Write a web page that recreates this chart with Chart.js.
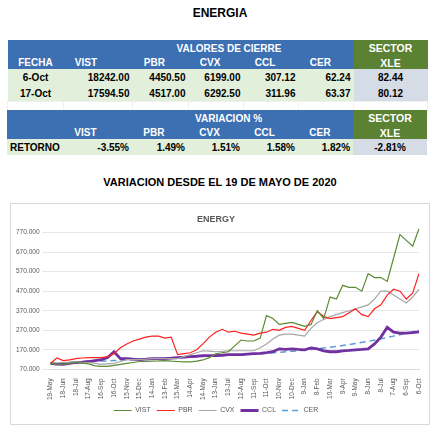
<!DOCTYPE html>
<html>
<head>
  <script src="https://cdn.jsdelivr.net/npm/chart.js"></script>
  <style>
    body { margin: 0; width: 440px; height: 435px; background: #fff; font-family: "Liberation Sans", Arial, sans-serif; position: relative; }
    .t1 { position: absolute; top: 6px; width: 440px; text-align: center; font-weight: bold; font-size: 12px; }
    .t2 { position: absolute; top: 176px; width: 440px; text-align: center; font-weight: bold; font-size: 11px; }
    table { position: absolute; left: 7px; border-collapse: collapse; table-layout: fixed; width: 420px; font-size: 10px; font-weight: bold; }
    td { padding: 0 3px; height: 13px; white-space: nowrap; overflow: hidden; }
    tr.big td { height: 16px; }
    .hb { background: #3d6fb3; color: #fff; }
    .hg { background: #5b8133; color: #fff; text-align: center; font-size: 10.5px; }
    .d { background: #e2efda; text-align: right; }
    .x { background: #d6dce5; text-align: center; }
    .c { text-align: center; }
    .box { position: absolute; left: 10px; top: 203px; width: 420px; height: 222px; border: 1px solid #d9d9d9; box-sizing: border-box; }
  </style>
</head>
<body>
  <div class="t1">ENERGIA</div>
  <table id="tab1" style="top:40px">
    <colgroup><col style="width:56px"><col style="width:69px"><col style="width:56px"><col style="width:55px"><col style="width:55px"><col style="width:55px"><col style="width:74px"></colgroup>
  </table>
  <table id="tab2" style="top:110px">
    <colgroup><col style="width:56px"><col style="width:69px"><col style="width:56px"><col style="width:55px"><col style="width:55px"><col style="width:55px"><col style="width:74px"></colgroup>
  </table>
  <div class="t2">VARIACION DESDE EL 19 DE MAYO DE 2020</div>
  <div class="box"><canvas id="chart" width="418" height="220"></canvas></div>

  <script>
    const tickers = ['VIST', 'PBR', 'CVX', 'CCL', 'CER'];
    const fechas = ['6-Oct', '17-Oct'];
    const cierre = [
      ['18242.00', '4450.50', '6199.00', '307.12', '62.24', '82.44'],
      ['17594.50', '4517.00', '6292.50', '311.96', '63.37', '80.12'],
    ];
    const retorno = ['-3.55%', '1.49%', '1.51%', '1.58%', '1.82%', '-2.81%'];

    const months = ['19-May', '18-Jun', '18-Jul', '17-Aug', '16-Sep', '16-Oct', '15-Nov', '15-Dec', '14-Jan', '13-Feb',
      '15-Mar', '14-Apr', '14-May', '13-Jun', '13-Jul', '12-Aug', '11-Sep', '11-Oct', '10-Nov', '10-Dec',
      '9-Jan', '8-Feb', '10-Mar', '9-Apr', '9-May', '8-Jun', '8-Jul', '7-Aug', '6-Sep', '6-Oct'];

    // one value per month label and one in between
    const vist = [100,97,95,100,105,102,98,88,85,85,90,95,100,105,110,110,112,113,115,112,110,108,108,112,118,130,150,155,160,190,220,215,215,230,345,330,300,305,310,300,290,300,370,330,440,430,500,490,490,470,560,540,540,520,640,760,730,700,790];
    const pbr = [100,128,115,118,125,128,130,130,130,135,150,180,200,215,225,235,240,240,230,235,145,150,155,170,200,235,260,275,260,265,255,250,245,255,260,275,270,285,290,280,270,320,365,340,330,335,340,360,380,350,340,380,400,450,480,470,430,460,560];
    const cvx = [100,103,105,107,108,106,105,100,95,98,100,110,120,120,120,122,125,125,125,125,125,135,145,155,165,163,160,162,165,165,165,165,165,180,200,225,245,250,250,245,240,280,310,325,340,350,360,370,380,390,400,430,470,470,450,430,410,440,480];
    const ccl = [100,97,95,100,105,107,110,115,120,130,160,125,125,122,120,122,125,125,125,127,130,132,135,137,140,140,140,142,145,145,145,148,150,152,155,160,175,172,175,172,170,180,175,165,160,160,165,167,170,172,175,200,235,285,260,255,255,258,262];
    const cerM = [100,103,106,109,112,115,118,121,124,127,130,133,136,139,142,145,148,152,157,162,168,175,183,192,202,213,226,240,255,270];
    const cer = [];
    cerM.forEach((v, i) => { if (i) cer.push(null); cer.push(v); });
    const labels = [];
    months.forEach((m, i) => { if (i) labels.push(''); labels.push(m); });
    const yTicks = [70, 170, 270, 370, 470, 570, 670, 770];

    function row(cells, cls) { return `<tr class="${cls || ''}">` + cells.join('') + '</tr>'; }
    const hdr = t => [`<td class="hb" colspan="6" style="text-align:center;padding-left:100px">${t}</td>`, '<td class="hg">SECTOR</td>'];
    const sub = first => [`<td class="hb c">${first}</td>`].concat(tickers.map(t => `<td class="hb">&nbsp;&nbsp;&nbsp;${t}</td>`), ['<td class="hg">XLE</td>']);
    let h1 = row(hdr('VALORES DE CIERRE'), 'big') + row(sub('FECHA'));
    fechas.forEach((f, i) => {
      h1 += row([`<td class="d c">${f}</td>`].concat(cierre[i].slice(0, 5).map(v => `<td class="d">${v}</td>`), [`<td class="x">${cierre[i][5]}</td>`]), 'big');
    });
    h1 += row(Array(7).fill('<td style="border:1px solid #f0f0f0"></td>'));
    document.getElementById('tab1').insertAdjacentHTML('beforeend', h1);
    let h2 = row(hdr('VARIACION %'), 'big') + row(sub(''));
    h2 += row(['<td class="d" style="text-align:left">RETORNO</td>'].concat(retorno.slice(0, 5).map(v => `<td class="d">${v}</td>`), [`<td class="x">${retorno[5]}</td>`]), 'big');
    document.getElementById('tab2').insertAdjacentHTML('beforeend', h2);

    const ds = (label, data, color, width, dash) => ({
      label, data, borderColor: color, backgroundColor: color, borderWidth: width,
      borderDash: dash || [], pointRadius: 0, tension: 0, spanGaps: true,
    });

    new Chart(document.getElementById('chart'), {
      type: 'line',
      data: {
        labels,
        datasets: [
          ds('VIST', vist, '#5b8a34', 1.2),
          ds('PBR', pbr, '#ff2020', 1.2),
          ds('CVX', cvx, '#a6a6a6', 1.2),
          ds('CCL', ccl, '#7030a0', 2.8),
          ds('CER', cer, '#5b9bd5', 1.5, [6, 4]),
        ],
      },
      options: {
        responsive: false,
        animation: false,
        layout: { padding: { left: 2, right: 10, top: 0, bottom: 0 } },
        scales: {
          x: {
            grid: { display: false },
            border: { color: '#d9d9d9' },
            ticks: {
              autoSkip: false, maxRotation: 90, minRotation: 90, padding: 1,
              font: { size: 6.5 }, color: '#595959',
              callback: function (v, i) { return labels[i]; },
            },
          },
          y: {
            min: 70, max: 810,
            afterBuildTicks: axis => { axis.ticks = yTicks.map(v => ({ value: v })); },
            grid: { color: '#e6e6e6' },
            border: { display: false },
            ticks: { font: { size: 6.5 }, color: '#595959', callback: v => v.toFixed(3) },
          },
        },
        plugins: {
          title: { display: true, text: 'ENERGY', color: '#595959', font: { size: 9, weight: 'bold' }, padding: { top: 10, bottom: 0 } },
          legend: {
            position: 'bottom',
            labels: { boxWidth: 18, boxHeight: 0, font: { size: 7 }, color: '#595959', padding: 6 },
          },
        },
      },
    });
  </script>
</body>
</html>
